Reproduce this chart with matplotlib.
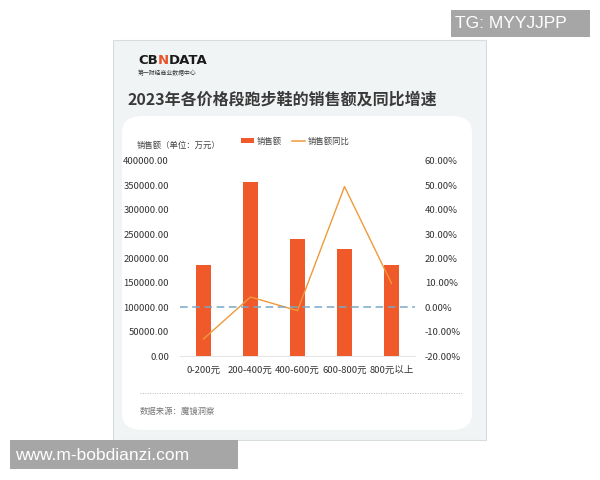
import numpy as np
import matplotlib.pyplot as plt
from matplotlib.patches import FancyBboxPatch, Rectangle
from matplotlib.lines import Line2D

plt.rcParams['font.family'] = ['Noto Sans CJK SC', 'DejaVu Sans']

# Datos
categorias = ['0-200元', '200-400元', '400-600元', '600-800元', '800元以上']
ventas = [186500, 357500, 240000, 219000, 186000]
crecimiento = [-13.0, 4.2, -1.4, 49.5, 9.8]

fig = plt.figure(figsize=(6, 4.8), dpi=100)
W, H = 600, 480


def px(x, y):
    # pixeles -> fracción de figura
    return x / W, 1 - y / H


def caja(x1, y1, x2, y2, **kw):
    xa, ya = px(x1, y2)
    r = Rectangle((xa, ya), (x2 - x1) / W, (y2 - y1) / H, transform=fig.transFigure, **kw)
    fig.patches.append(r)


# Tarjeta de fondo
caja(113, 40, 486, 440, facecolor='#f1f4f5', edgecolor='#d8dcdf', linewidth=0.8, zorder=0)
x0, y0 = px(122, 430)
panel = FancyBboxPatch((x0, y0), (472 - 122) / W, (430 - 116) / H,
                       boxstyle='round,pad=0,rounding_size=0.035', transform=fig.transFigure,
                       facecolor='white', edgecolor='none', zorder=0.5)
fig.patches.append(panel)

# Logo
renderer = fig.canvas.get_renderer()
xx = 138
for txt, col in [('CB', '#1a1a1a'), ('N', '#e8552a'), ('DATA', '#1a1a1a')]:
    t = fig.text(*px(xx, 61), txt, fontsize=9.5, fontweight='bold', color=col,
                 va='center', ha='left', family='DejaVu Sans')
    xx += t.get_window_extent(renderer).width
fig.text(*px(138, 73), '第一财经商业数据中心', fontsize=4.2, color='#333333', va='center', ha='left')

# Título
fig.text(*px(127, 100), '2023年各价格段跑步鞋的销售额及同比增速', fontsize=11.5,
         fontweight='bold', color='#3a3a3a', va='center', ha='left')

# Ejes
l, b = px(180, 356)
ax = fig.add_axes([l, b, (415 - 180) / W, (356 - 161) / H])
ax.set_zorder(5)
ax.set_facecolor('none')
x = np.arange(len(categorias))
ax.bar(x, ventas, width=0.32, color='#f0592a', zorder=2)
ax.set_xlim(-0.5, len(categorias) - 0.5)
ax.set_ylim(0, 400000)
ax.set_yticks(np.arange(0, 400001, 50000))
ax.set_yticklabels([f'{v:.2f}' for v in np.arange(0, 400001, 50000)])
ax.set_xticks(x)
ax.set_xticklabels(categorias)
ax.tick_params(axis='both', length=0, labelsize=6.8, colors='#333333')
ax.tick_params(axis='y', pad=8)
ax.tick_params(axis='x', pad=7)
for s in ['top', 'right', 'left']:
    ax.spines[s].set_visible(False)
ax.spines['bottom'].set_color('#e0e0e0')
ax.spines['bottom'].set_linewidth(0.6)

ax2 = ax.twinx()
ax2.set_zorder(6)
ax2.set_ylim(-20, 60)
ax2.set_yticks(np.arange(-20, 61, 10))
ax2.set_yticklabels([f'{v:.2f}%' for v in np.arange(-20, 61, 10)])
ax2.tick_params(axis='y', length=0, labelsize=6.8, colors='#333333', pad=7)
for s in ax2.spines.values():
    s.set_visible(False)
ax2.plot(x, crecimiento, color='#ee9a3a', linewidth=1.0, zorder=3)
ax2.axhline(0, color='#78a8c8', linewidth=1.1, linestyle=(0, (5, 3)), zorder=4)

# Etiqueta de eje y leyenda
fig.text(*px(137, 145), '销售额（单位：万元）', fontsize=6, color='#444444', va='center', ha='left')
handles = [Rectangle((0, 0), 1, 1, facecolor='#f0592a'),
           Line2D([0], [0], color='#ee9a3a', linewidth=1.1)]
fig.legend(handles, ['销售额', '销售额同比'], loc='center', bbox_to_anchor=px(295, 141),
           ncol=2, frameon=False, fontsize=6, labelcolor='#444444',
           handlelength=1.6, handleheight=0.6, columnspacing=1.2, handletextpad=0.3)

# Separador y fuente
fig.add_artist(Line2D([140 / W, 462 / W], [1 - 393 / H] * 2, transform=fig.transFigure,
                      color='#bbbbbb', linewidth=0.7, linestyle=(0, (1, 1.5))))
fig.text(*px(140, 411), '数据来源：魔镜洞察', fontsize=6, color='#777777', va='center', ha='left')

# Marcas de agua
caja(451, 10, 590, 37, facecolor='#a6a6a6', edgecolor='none', zorder=1)
fig.text(*px(455, 24), 'TG: MYYJJPP', fontsize=12.5, color='white', va='center', ha='left',
         family='Liberation Sans')
caja(10, 440, 238, 469, facecolor='#a6a6a6', edgecolor='none', zorder=1)
fig.text(*px(15, 455), 'www.m-bobdianzi.com', fontsize=12.5, color='white', va='center', ha='left',
         family='Liberation Sans')

fig.savefig('out.png', dpi=100)
